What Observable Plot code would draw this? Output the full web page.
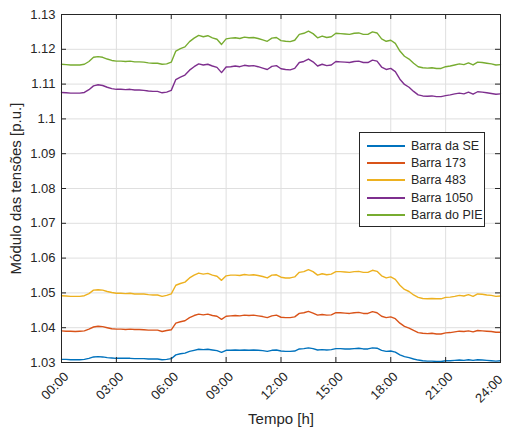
<!DOCTYPE html>
<html><head><meta charset="utf-8">
<script src="https://cdn.jsdelivr.net/npm/d3@7"></script>
<script src="https://cdn.jsdelivr.net/npm/@observablehq/plot@0.6"></script>
<style>
body{margin:0;background:#fff;}
#chart{position:relative;width:509px;height:428px;font-family:"Liberation Sans",Arial,sans-serif;}
#legend{position:absolute;left:359px;top:132px;width:126px;height:95px;background:#fff;border:1px solid #262626;box-sizing:border-box;padding-top:4px;}
.item{display:flex;align-items:center;height:17.4px;font-size:12.5px;color:#262626;}
.sw{width:38px;height:0;border-top:2px solid;margin-left:7px;margin-right:6px;}
</style></head><body><div id="chart"><div id="legend"></div></div>
<script>
const hours = [0,0.25,0.5,0.75,1,1.25,1.5,1.75,2,2.25,2.5,2.75,3,3.25,3.5,3.75,4,4.25,4.5,4.75,5,5.25,5.5,5.75,6,6.25,6.5,6.75,7,7.25,7.5,7.75,8,8.25,8.5,8.75,9,9.25,9.5,9.75,10,10.25,10.5,10.75,11,11.25,11.5,11.75,12,12.25,12.5,12.75,13,13.25,13.5,13.75,14,14.25,14.5,14.75,15,15.25,15.5,15.75,16,16.25,16.5,16.75,17,17.25,17.5,17.75,18,18.25,18.5,18.75,19,19.25,19.5,19.75,20,20.25,20.5,20.75,21,21.25,21.5,21.75,22,22.25,22.5,22.75,23,23.25,23.5,23.75,24];

const barraSE = [1.0309,1.0309,1.0308,1.0308,1.0308,1.0309,1.0312,1.0316,1.0317,1.0316,1.0314,1.0313,1.0312,1.0312,1.0312,1.0312,1.0311,1.0311,1.0311,1.0310,1.0310,1.0310,1.0308,1.0309,1.0311,1.0322,1.0325,1.0327,1.0332,1.0335,1.0338,1.0337,1.0338,1.0336,1.0334,1.0329,1.0335,1.0335,1.0336,1.0335,1.0336,1.0335,1.0336,1.0335,1.0334,1.0332,1.0335,1.0336,1.0333,1.0332,1.0332,1.0333,1.0339,1.0340,1.0342,1.0340,1.0336,1.0337,1.0336,1.0337,1.0340,1.0340,1.0339,1.0339,1.0340,1.0341,1.0339,1.0339,1.0342,1.0341,1.0335,1.0332,1.0333,1.0330,1.0322,1.0317,1.0314,1.0310,1.0307,1.0305,1.0304,1.0304,1.0303,1.0303,1.0305,1.0305,1.0306,1.0307,1.0306,1.0308,1.0306,1.0308,1.0307,1.0306,1.0305,1.0304,1.0305];

const barra173 = [1.0391,1.0390,1.0390,1.0389,1.0390,1.0391,1.0396,1.0402,1.0404,1.0403,1.0400,1.0397,1.0396,1.0396,1.0395,1.0396,1.0395,1.0395,1.0394,1.0393,1.0393,1.0393,1.0389,1.0392,1.0394,1.0413,1.0417,1.0420,1.0429,1.0435,1.0439,1.0437,1.0439,1.0435,1.0433,1.0424,1.0433,1.0434,1.0435,1.0434,1.0436,1.0435,1.0436,1.0434,1.0432,1.0429,1.0434,1.0436,1.0430,1.0429,1.0429,1.0431,1.0441,1.0443,1.0447,1.0442,1.0436,1.0438,1.0436,1.0437,1.0443,1.0443,1.0442,1.0441,1.0443,1.0444,1.0441,1.0441,1.0446,1.0443,1.0433,1.0429,1.0431,1.0426,1.0413,1.0404,1.0399,1.0392,1.0386,1.0384,1.0383,1.0384,1.0382,1.0382,1.0385,1.0386,1.0388,1.0390,1.0389,1.0391,1.0388,1.0392,1.0391,1.0390,1.0389,1.0387,1.0387];

const barra483 = [1.0492,1.0491,1.0490,1.0490,1.0490,1.0492,1.0498,1.0508,1.0509,1.0508,1.0504,1.0501,1.0499,1.0499,1.0498,1.0499,1.0497,1.0497,1.0497,1.0495,1.0494,1.0494,1.0490,1.0493,1.0497,1.0522,1.0527,1.0531,1.0543,1.0551,1.0557,1.0554,1.0556,1.0551,1.0548,1.0536,1.0549,1.0551,1.0551,1.0550,1.0553,1.0551,1.0552,1.0550,1.0547,1.0543,1.0551,1.0552,1.0545,1.0543,1.0543,1.0546,1.0559,1.0561,1.0567,1.0561,1.0551,1.0555,1.0552,1.0554,1.0561,1.0561,1.0560,1.0559,1.0561,1.0562,1.0559,1.0559,1.0565,1.0562,1.0549,1.0543,1.0546,1.0539,1.0522,1.0510,1.0504,1.0494,1.0487,1.0484,1.0483,1.0484,1.0483,1.0483,1.0487,1.0488,1.0490,1.0493,1.0491,1.0495,1.0490,1.0497,1.0496,1.0494,1.0493,1.0490,1.0491];

const barra1050 = [1.1076,1.1075,1.1074,1.1074,1.1074,1.1076,1.1084,1.1095,1.1098,1.1096,1.1091,1.1087,1.1085,1.1085,1.1084,1.1085,1.1083,1.1083,1.1082,1.1080,1.1079,1.1079,1.1075,1.1077,1.1082,1.1113,1.1120,1.1126,1.1140,1.1150,1.1158,1.1155,1.1157,1.1152,1.1148,1.1133,1.1149,1.1150,1.1152,1.1150,1.1154,1.1152,1.1153,1.1150,1.1146,1.1142,1.1151,1.1153,1.1144,1.1142,1.1141,1.1145,1.1162,1.1165,1.1172,1.1164,1.1152,1.1157,1.1153,1.1155,1.1165,1.1164,1.1163,1.1162,1.1165,1.1166,1.1162,1.1162,1.1169,1.1166,1.1149,1.1142,1.1145,1.1136,1.1114,1.1099,1.1091,1.1079,1.1069,1.1066,1.1065,1.1066,1.1064,1.1064,1.1067,1.1069,1.1072,1.1074,1.1072,1.1077,1.1071,1.1078,1.1077,1.1075,1.1073,1.1071,1.1072];

const barraPIE = [1.1157,1.1156,1.1155,1.1155,1.1155,1.1157,1.1165,1.1177,1.1179,1.1177,1.1172,1.1168,1.1166,1.1166,1.1165,1.1166,1.1164,1.1164,1.1163,1.1161,1.1160,1.1160,1.1157,1.1158,1.1163,1.1195,1.1202,1.1207,1.1222,1.1232,1.1240,1.1236,1.1239,1.1233,1.1229,1.1214,1.1230,1.1232,1.1233,1.1231,1.1235,1.1233,1.1234,1.1231,1.1227,1.1223,1.1232,1.1234,1.1225,1.1223,1.1222,1.1226,1.1243,1.1246,1.1252,1.1245,1.1233,1.1238,1.1234,1.1236,1.1246,1.1245,1.1244,1.1243,1.1246,1.1247,1.1243,1.1243,1.1250,1.1247,1.1230,1.1223,1.1226,1.1217,1.1195,1.1180,1.1172,1.1160,1.1150,1.1147,1.1146,1.1147,1.1145,1.1145,1.1150,1.1152,1.1155,1.1158,1.1156,1.1161,1.1155,1.1163,1.1162,1.1160,1.1158,1.1155,1.1156];

const seriesNames = ["Barra da SE","Barra 173","Barra 483","Barra 1050","Barra do PIE"];
const seriesValues = [barraSE, barra173, barra483, barra1050, barraPIE];
const seriesColors = ["#0072BD","#D95319","#EDB120","#7E2F8E","#77AC30"];

const xTicks = [0,3,6,9,12,15,18,21,24];
const xTickLabels = ["00:00","03:00","06:00","09:00","12:00","15:00","18:00","21:00","24:00"];
const yTicks = [1.03,1.04,1.05,1.06,1.07,1.08,1.09,1.1,1.11,1.12,1.13];
const yLabel = "Módulo das tensões [p.u.]";
const xLabel = "Tempo [h]";

const table = [];
seriesNames.forEach((name, i) => {
  hours.forEach((h, j) => table.push({t: h, v: seriesValues[i][j], s: name}));
});

const W = 509, H = 428, mL = 61, mR = 9, mT = 14, mB = 66;
const pw = W - mL - mR, ph = H - mT - mB;
const axisColor = "#262626";
const gridColor = "#dfdfdf";
const fmtX = d => xTickLabels[xTicks.indexOf(d)];

const chart = Plot.plot({
  width: W, height: H,
  marginLeft: mL, marginRight: mR, marginTop: mT, marginBottom: mB,
  style: {fontFamily: '"Liberation Sans", Arial, sans-serif', fontSize: "13px", color: axisColor, background: "#fff"},
  x: {domain: [0, 24], ticks: xTicks},
  y: {domain: [1.03, 1.13], ticks: yTicks},
  color: {domain: seriesNames, range: seriesColors},
  marks: [
    Plot.gridX(xTicks, {stroke: gridColor, strokeOpacity: 1}),
    Plot.gridY(yTicks, {stroke: gridColor, strokeOpacity: 1}),
    Plot.lineY(table, {x: "t", y: "v", z: "s", stroke: "s", strokeWidth: 1.4}),
    Plot.tickY(yTicks, {y: d => d, insetRight: pw - 5, stroke: axisColor}),
    Plot.tickY(yTicks, {y: d => d, insetLeft: pw - 5, stroke: axisColor}),
    Plot.tickX(xTicks, {x: d => d, insetTop: ph - 5, stroke: axisColor}),
    Plot.tickX(xTicks, {x: d => d, insetBottom: ph - 5, stroke: axisColor}),
    Plot.frame({stroke: axisColor}),
    Plot.axisY(yTicks, {tickSize: 0, tickPadding: 6, tickFormat: d => String(+d.toFixed(2)), label: null, fill: axisColor}),
    Plot.axisX(xTicks.slice(0, -1), {tickSize: 0, tickPadding: 6, tickRotate: -45, dx: 5, dy: 6, fontSize: 13, tickFormat: fmtX, label: null, fill: axisColor}),
    Plot.axisX(xTicks.slice(-1), {tickSize: 0, tickPadding: 6, tickRotate: -45, dx: 0, dy: 9, fontSize: 13, tickFormat: fmtX, label: null, fill: axisColor}),
    Plot.text([yLabel], {frameAnchor: "left", textAnchor: "middle", rotate: -90, dx: -45, fontSize: 15, fill: axisColor}),
    Plot.text([xLabel], {frameAnchor: "bottom", textAnchor: "middle", dy: 61, fontSize: 15, fill: axisColor})
  ]
});
document.getElementById("chart").prepend(chart);

const legend = document.getElementById("legend");
seriesNames.forEach((name, i) => {
  const row = document.createElement("div");
  row.className = "item";
  const sw = document.createElement("div");
  sw.className = "sw";
  sw.style.borderTopColor = seriesColors[i];
  const lab = document.createElement("span");
  lab.textContent = name;
  row.append(sw, lab);
  legend.append(row);
});
</script></body></html>
